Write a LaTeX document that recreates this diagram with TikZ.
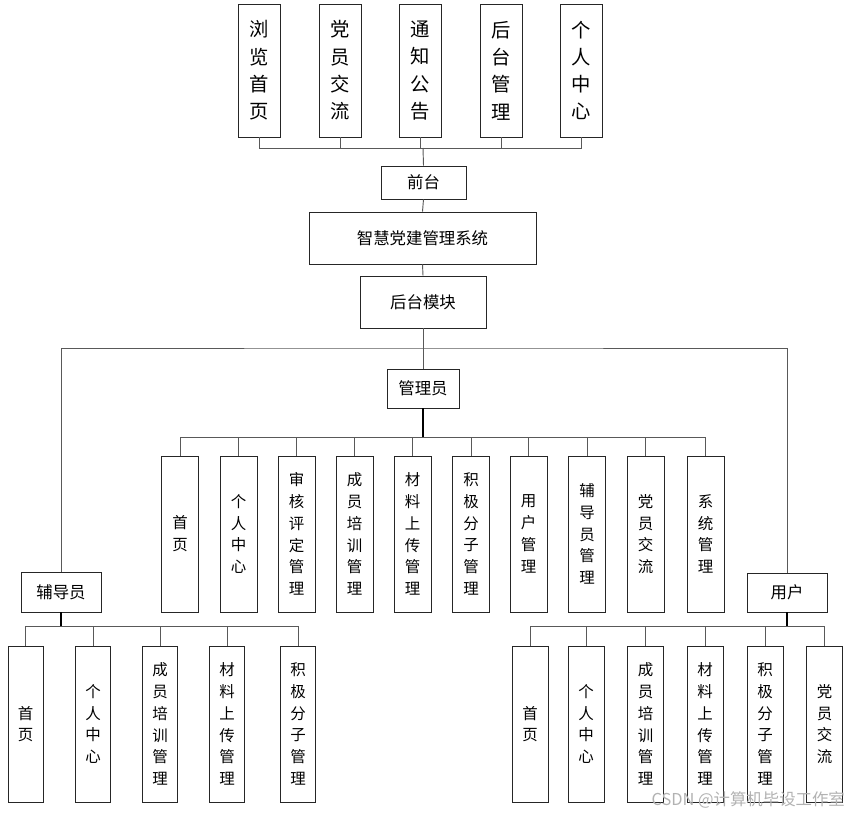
\documentclass[tikz,border=0pt]{standalone}
\usepackage{fontspec}
\newfontfamily\cjk{Noto Sans CJK SC}

\tikzset{
  colbox/.style={draw=black!85, line width=0.8pt, fill=white, align=center, inner sep=0pt},
  topcol/.style={colbox, minimum width=1.26cm, minimum height=3.99cm, font={\cjk\fontsize{16.5}{23.3}\selectfont}},
  subcol/.style={colbox, minimum width=1.1cm, minimum height=4.68cm, font={\cjk\fontsize{13.2}{18.6}\selectfont}},
  midbox/.style={colbox, font={\cjk\fontsize{14}{16}\selectfont}},
  link/.style={draw=black!65, line width=0.8pt},
  boldlink/.style={draw=black, line width=1.5pt},
}

\begin{document}
\begin{tikzpicture}[x=0.03cm, y=-0.03cm]
  \useasboundingbox (0,0) rectangle (852,815);

  % front end modules
  \foreach \x/\t [count=\i] in {259/浏\\览\\首\\页, 340/党\\员\\交\\流, 420.5/通\\知\\公\\告, 501.5/后\\台\\管\\理, 581/个\\人\\中\\心}{
    \node[topcol] (t\i) at (\x,70.5) {\t};
  }

  % main chain
  \node[midbox, minimum width=2.55cm, minimum height=0.99cm] (qiantai) at (423.5,182.5) {前台};
  \node[midbox, minimum width=6.81cm, minimum height=1.56cm] (system) at (422.5,238) {智慧党建管理系统};
  \node[midbox, minimum width=3.78cm, minimum height=1.56cm] (houtai) at (423,302) {后台模块};
  \node[midbox, minimum width=2.16cm, minimum height=1.17cm] (guanli) at (423,388.5) {管理员};
  \node[midbox, minimum width=2.4cm, minimum height=1.2cm] (fudao) at (61,592) {辅导员};
  \node[midbox, minimum width=2.4cm, minimum height=1.17cm] (yonghu) at (787,592.5) {用户};

  % admin modules
  \foreach \x/\t [count=\i] in {180/首\\页, 238.5/个\\人\\中\\心, 296.5/审\\核\\评\\定\\管\\理, 354.5/成\\员\\培\\训\\管\\理,
      412.5/材\\料\\上\\传\\管\\理, 471/积\\极\\分\\子\\管\\理, 528.5/用\\户\\管\\理, 587/辅\\导\\员\\管\\理,
      645.5/党\\员\\交\\流, 705.5/系\\统\\管\\理}{
    \node[subcol, minimum width=1.11cm] (a\i) at (\x,534) {\t};
  }

  % tutor modules
  \foreach \x/\t [count=\i] in {25.5/首\\页, 93/个\\人\\中\\心, 160/成\\员\\培\\训\\管\\理, 227/材\\料\\上\\传\\管\\理, 298/积\\极\\分\\子\\管\\理}{
    \node[subcol, minimum width=1.05cm] (f\i) at (\x,724) {\t};
  }

  % user modules
  \foreach \x/\t [count=\i] in {530/首\\页, 586/个\\人\\中\\心, 645.5/成\\员\\培\\训\\管\\理, 705/材\\料\\上\\传\\管\\理, 765/积\\极\\分\\子\\管\\理, 824.5/党\\员\\交\\流}{
    \node[subcol, minimum width=1.08cm] (u\i) at (\x,724) {\t};
  }

  % bus points
  \coordinate (topbus) at (423,148);
  \coordinate (backbus) at (423,348);
  \coordinate (adminbus) at (423,437);
  \coordinate (tutorbus) at (61,626);
  \coordinate (userbus) at (787,626);

  % connectors
  \foreach \i in {1,...,5}{
    \draw[link] (t\i.south) |- (topbus);
  }
  \draw[link] (topbus) -- (qiantai.north);
  \draw[link] (qiantai.south) -- (system.north);
  \draw[link] (system.south) -- (houtai.north);
  \draw[link] (houtai.south) -- (guanli.north);
  \draw[link] (fudao.north) |- (backbus) -| (yonghu.north);

  \foreach \i in {1,...,10}{
    \draw[link] (a\i.north) |- (adminbus);
  }
  \draw[boldlink] (guanli.south) -- (adminbus);

  \foreach \i in {1,...,5}{
    \draw[link] (f\i.north) |- (tutorbus);
  }
  \draw[boldlink] (fudao.south) -- (tutorbus);

  \foreach \i in {1,...,6}{
    \draw[link] (u\i.north) |- (userbus);
  }
  \draw[boldlink] (yonghu.south) -- (userbus);

  % watermark
  \node[text=black!30, font={\cjk\fontsize{14}{16}\selectfont}, anchor=east] (mark) at (849,800) {CSDN @计算机毕设工作室};
\end{tikzpicture}
\end{document}
